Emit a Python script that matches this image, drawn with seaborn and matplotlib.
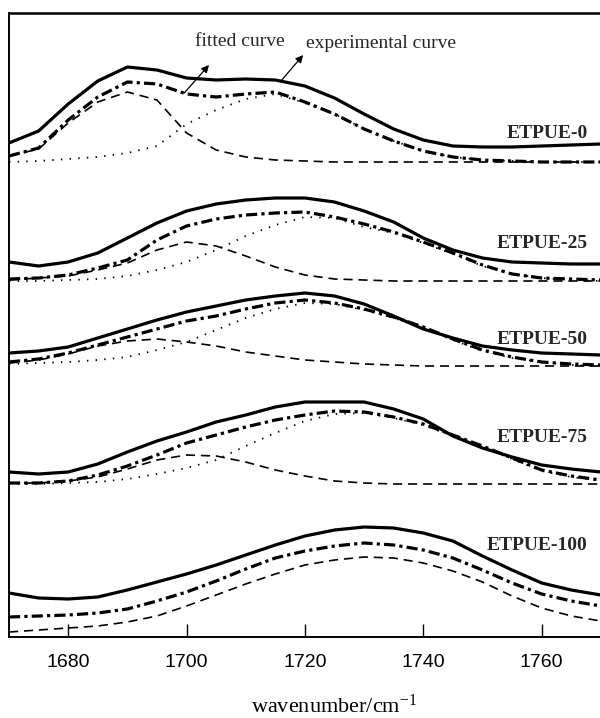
import numpy as np
import pandas as pd
import matplotlib
matplotlib.use("Agg")
import matplotlib.pyplot as plt
from matplotlib import font_manager
import seaborn as sns

# ---------------- data (stacked absorbance, arbitrary units) ----------------
wavenumber = [1670, 1675, 1680, 1685, 1690, 1695, 1700, 1705, 1710, 1715, 1720,
              1725, 1730, 1735, 1740, 1745, 1750, 1755, 1760, 1765, 1770]

samples = ["ETPUE-0", "ETPUE-25", "ETPUE-50", "ETPUE-75", "ETPUE-100"]

# ETPUE-0
exp_0 = [494, 506, 533, 556, 570, 567, 559, 557, 558, 557, 551, 539, 523, 508, 497, 491, 490, 490, 491, 492, 493]
fit_0 = [481, 489, 517, 540, 555, 553, 543, 540, 543, 545, 535, 523, 508, 496, 486, 480, 477, 476, 475, 475, 475]
peak1_0 = [481, 488, 514, 535, 545, 537, 504, 487, 480, 477, 476, 475, 475, 475, 475, 475, 475, 475, 475, 475, 475]
peak2_0 = [475, 476, 478, 480, 484, 491, 513, 527, 538, 543, 534, 523, 508, 496, 486, 480, 477, 476, 475, 475, 475]

# ETPUE-25
exp_25 = [375, 371, 375, 384, 399, 414, 426, 433, 437, 439, 439, 435, 426, 415, 399, 387, 379, 375, 374, 373, 373]
fit_25 = [358, 359, 362, 369, 377, 397, 411, 418, 422, 424, 425, 420, 413, 405, 395, 384, 372, 363, 359, 358, 357]
peak1_25 = [357, 359, 361, 367, 374, 387, 395, 391, 381, 370, 362, 358, 357, 356, 356, 356, 356, 356, 356, 356, 356]
peak2_25 = [356, 356, 357, 358, 361, 367, 375, 387, 401, 412, 420, 419, 410, 404, 394, 383, 371, 363, 359, 357, 356]

# ETPUE-50
exp_50 = [284, 286, 290, 299, 308, 317, 325, 331, 337, 341, 344, 341, 333, 321, 308, 299, 291, 287, 284, 283, 282]
fit_50 = [275, 278, 284, 292, 300, 308, 316, 321, 328, 334, 337, 334, 328, 320, 310, 298, 287, 280, 275, 273, 272]
peak1_50 = [274, 277, 283, 291, 296, 298, 295, 291, 285, 281, 277, 275, 273, 272, 271, 271, 271, 271, 271, 271, 271]
peak2_50 = [273, 274, 275, 277, 280, 287, 295, 307, 319, 328, 334, 333, 327, 319, 309, 297, 286, 279, 275, 272, 271]

# ETPUE-75
exp_75 = [165, 163, 165, 173, 185, 196, 205, 215, 222, 230, 235, 235, 235, 228, 218, 201, 189, 180, 172, 168, 165]
fit_75 = [154, 154, 156, 162, 171, 182, 194, 202, 210, 217, 222, 226, 225, 220, 213, 202, 191, 179, 167, 161, 157]
peak1_75 = [154, 154, 156, 160, 168, 177, 182, 181, 175, 167, 161, 156, 154, 153, 153, 153, 153, 153, 153, 153, 153]
peak2_75 = [153, 153, 154, 155, 158, 163, 169, 177, 191, 204, 216, 223, 224, 219, 212, 201, 190, 178, 166, 160, 156]

# ETPUE-100
exp_100 = [44, 39, 38, 40, 47, 55, 63, 72, 82, 92, 101, 107, 110, 109, 104, 96, 81, 67, 54, 47, 42]
fit_100 = [20, 21, 22, 24, 28, 36, 45, 56, 68, 79, 86, 91, 94, 92, 87, 79, 67, 54, 43, 36, 31]
peak1_100 = [5, 7, 9, 11, 15, 21, 31, 42, 53, 63, 72, 77, 80, 79, 74, 66, 55, 41, 29, 21, 16]

label_y = [503, 393, 298, 199, 91]
xticks = [1680, 1700, 1720, 1740, 1760]

# ---------------- styling ----------------
sns.set_theme(style="white")
plt.rcParams["font.family"] = ["Liberation Serif", "DejaVu Serif"]
plt.rcParams["mathtext.fontset"] = "custom"
plt.rcParams["mathtext.rm"] = "Liberation Serif"
plt.rcParams["mathtext.it"] = "Liberation Serif:italic"

avail = {f.name for f in font_manager.fontManager.ttflist}
if "Liberation Sans Narrow" in avail:
    tick_family, tick_size = ["Liberation Sans Narrow", "Liberation Sans"], 15.5
else:
    tick_family, tick_size = ["Liberation Sans", "DejaVu Sans"], 14

fig = plt.figure(figsize=(6.0, 7.18), dpi=100)
ax = fig.add_axes([9 / 600, 81 / 718, 651 / 600, 624 / 718])

styles = {
    "exp": dict(color="black", lw=2.3, linestyle="-"),
    "fit": dict(color="black", lw=2.3, linestyle=(0, (3.5, 1.3, 1.0, 1.3))),
    "p1": dict(color="black", lw=1.2, linestyle=(0, (5.5, 3.5))),
    "p2": dict(color="black", lw=1.3, linestyle=(0, (0.8, 4.0))),
}

rows = []
curves = [
    (exp_0, fit_0, peak1_0, peak2_0),
    (exp_25, fit_25, peak1_25, peak2_25),
    (exp_50, fit_50, peak1_50, peak2_50),
    (exp_75, fit_75, peak1_75, peak2_75),
    (exp_100, fit_100, peak1_100, None),
]
for name, (e, f, p1, p2) in zip(samples, curves):
    for kind, vals in (("exp", e), ("fit", f), ("p1", p1), ("p2", p2)):
        if vals is None:
            continue
        for x, y in zip(wavenumber, vals):
            rows.append((name, kind, x, y))
df = pd.DataFrame(rows, columns=["sample", "kind", "wavenumber", "absorbance"])

for (name, kind), sub in df.groupby(["sample", "kind"], sort=False):
    sns.lineplot(data=sub, x="wavenumber", y="absorbance", ax=ax,
                 estimator=None, sort=True, legend=False, **styles[kind])

for name, y in zip(samples, label_y):
    ax.text(1767.8, y, name, ha="right", va="center", fontsize=14,
            fontweight="bold", family=["Liberation Serif", "DejaVu Serif"])

ax.annotate("", xy=(1703.8, 572), xytext=(1699.6, 544),
            arrowprops=dict(arrowstyle="-|>", color="black", lw=0.9,
                            mutation_scale=11, shrinkA=0, shrinkB=0))
ax.annotate("", xy=(1719.7, 582), xytext=(1716.1, 557),
            arrowprops=dict(arrowstyle="-|>", color="black", lw=0.9,
                            mutation_scale=11, shrinkA=0, shrinkB=0))
ax.text(1709.0, 596, "fitted curve", ha="center", va="center", fontsize=14)
ax.text(1732.8, 593, "experimental curve", ha="center", va="center", fontsize=14)

ax.set_xlim(1670, 1780)
ax.set_ylim(0, 624)
ax.set_yticks([])
ax.set_xticks(xticks)
ax.set_xticklabels([str(t) for t in xticks], family=tick_family, fontsize=tick_size)
ax.tick_params(axis="x", direction="in", length=9.5, width=1.0, pad=12,
               colors="black", bottom=True, top=False)
ax.set_ylabel("")
ax.set_xlabel("wavenumber/cm$^{-1}$", fontsize=16, labelpad=17, color="black")
for side in ["left", "bottom", "top", "right"]:
    ax.spines[side].set_color("black")
    ax.spines[side].set_linewidth(1.4)
ax.spines["top"].set_linewidth(1.8)

fig.savefig("out.png", dpi=100)
